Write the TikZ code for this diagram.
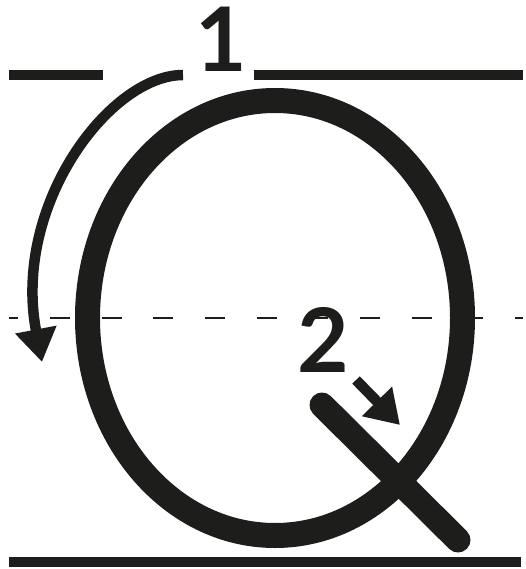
\documentclass[tikz,border=0pt]{standalone}
\usepackage{fontspec}
\newfontfamily\digitfont{Lato}
\usetikzlibrary{arrows.meta}
\definecolor{ink}{HTML}{1D1D1B}

\begin{document}
\begin{tikzpicture}[x=1pt, y=-1pt,
    guide line/.style={line width=10pt, draw=ink},
    mid line/.style={line width=2.5pt, draw=ink, dash pattern=on 20pt off 31.67pt, dash phase=10.67pt},
    letter stroke/.style={line width=25pt, draw=ink, line cap=round},
    hint arrow/.style={line width=10.5pt, draw=ink, -{Triangle[length=33pt, width=40pt]}},
    digit/.style={anchor=south, inner sep=0pt, text=ink, font=\digitfont\bfseries\fontsize{89pt}{89pt}\selectfont}]
  \useasboundingbox (0,0) rectangle (525,569);
  \draw[guide line] (9,75.5) -- (103,75.5);
  \draw[guide line] (254,75.5) -- (523,75.5);
  \draw[mid line] (9,318) -- (523,318);
  \draw[guide line] (9,561.7) -- (521,561.7);
  \draw[letter stroke] (275,318) ellipse [x radius=187.5, y radius=217.5];
  \draw[letter stroke] (322,405) -- (458,540);
  \node[digit] (one) at (221,72) {1};
  \node[digit] (two) at (323.5,373) {2};
  \coordinate (arc start) at (183,75);
  \coordinate (arc tip) at (42,362);
  \coordinate (tail start) at (356,380);
  \coordinate (tail tip) at (400,425);
  \draw[hint arrow] (arc start) .. controls (110,75) and (12,205) .. (arc tip);
  \draw[hint arrow] (tail start) -- (tail tip);
\end{tikzpicture}
\end{document}
